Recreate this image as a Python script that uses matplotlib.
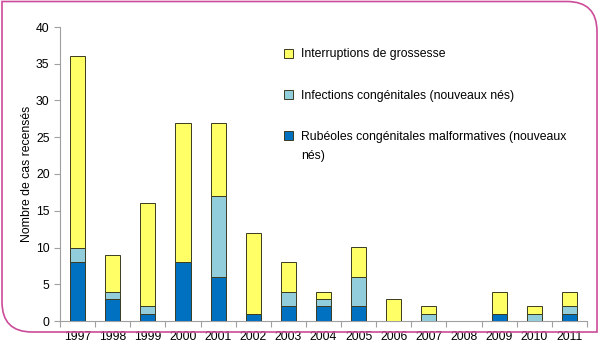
import matplotlib
matplotlib.use("Agg")
import matplotlib.pyplot as plt
from matplotlib.path import Path
from matplotlib.patches import PathPatch, Patch

plt.rcParams['font.family'] = ['Liberation Sans', 'DejaVu Sans']

years = ['1997', '1998', '1999', '2000', '2001', '2002', '2003', '2004',
         '2005', '2006', '2007', '2008', '2009', '2010', '2011']
malformatives = [8, 3, 1, 8, 6, 1, 2, 2, 2, 0, 0, 0, 1, 0, 1]
infections = [2, 1, 1, 0, 11, 0, 2, 1, 4, 0, 1, 0, 0, 1, 1]
interruptions = [26, 5, 14, 19, 10, 11, 4, 1, 4, 3, 1, 0, 3, 1, 2]

labels = ['Rubéoles congénitales malformatives (nouveaux',
          'Infections congénitales (nouveaux nés)',
          'Interruptions de grossesse']
label_cont = 'nés)'
colors = ['#0070C0', '#92CDDC', '#FFFF66']

W, H = 600, 364
fs = 8.8
fig = plt.figure(figsize=(W / 100, H / 100), dpi=100)
ax = fig.add_axes([60 / W, 1 - 321 / H, 527 / W, 294 / H])

x = list(range(len(years)))
bottoms = [0] * len(years)
edge = '#3a3a20'
for vals, col in zip([malformatives, infections, interruptions], colors):
    ax.bar(x, vals, width=0.43, bottom=bottoms, color=col, edgecolor=edge,
           linewidth=0.7, zorder=3)
    bottoms = [b + v for b, v in zip(bottoms, vals)]

ax.set_xlim(-0.5, len(years) - 0.5)
ax.set_ylim(0, 40)
ax.set_yticks(range(0, 41, 5))
ax.set_xticks(x)
ax.set_xticklabels(years)
ax.set_xticks([i + 0.5 for i in range(-1, len(years))], minor=True)
ax.tick_params(axis='x', which='major', length=0, labelsize=fs, pad=7)
ax.tick_params(axis='x', which='minor', length=4, color='#a0a0a0', width=0.8)
ax.tick_params(axis='y', length=4, color='#a0a0a0', width=0.8, labelsize=fs)
for s in ['top', 'right']:
    ax.spines[s].set_visible(False)
for s in ['left', 'bottom']:
    ax.spines[s].set_color('#a0a0a0')
    ax.spines[s].set_linewidth(0.8)
ax.set_ylabel('Nombre de cas recensés', fontsize=fs, labelpad=2)

handles = [Patch(facecolor=c, edgecolor=edge, linewidth=0.7) for c in colors]
leg = ax.legend(handles[::-1], labels[::-1], loc='upper left',
                bbox_to_anchor=(0.414, 0.948), frameon=False, fontsize=fs,
                handlelength=0.75, handleheight=0.75, handletextpad=0.6,
                labelspacing=2.4, borderpad=0)

fig.canvas.draw()
bb = leg.get_texts()[-1].get_window_extent()
fig.text(bb.x0 / W, (bb.y0 - 19) / H, label_cont, fontsize=fs, va='bottom', ha='left')

# pink frame: rounded top-right and bottom-left corners
L, R, T, B = 2, 597, 1.5, 332
r = 30
pts = [(L, T), (R - r, T), (R, T), (R, T + r), (R, B), (L + r, B), (L, B), (L, B - r), (L, T)]
codes = [Path.MOVETO, Path.LINETO, Path.CURVE3, Path.CURVE3, Path.LINETO,
         Path.LINETO, Path.CURVE3, Path.CURVE3, Path.CLOSEPOLY]
pts_fig = [(px / W, 1 - py / H) for px, py in pts]
patch = PathPatch(Path(pts_fig, codes), facecolor='none', edgecolor='#CC4C9A',
                  linewidth=1.2, transform=fig.transFigure)
fig.add_artist(patch)

fig.savefig('out.png', dpi=100)
